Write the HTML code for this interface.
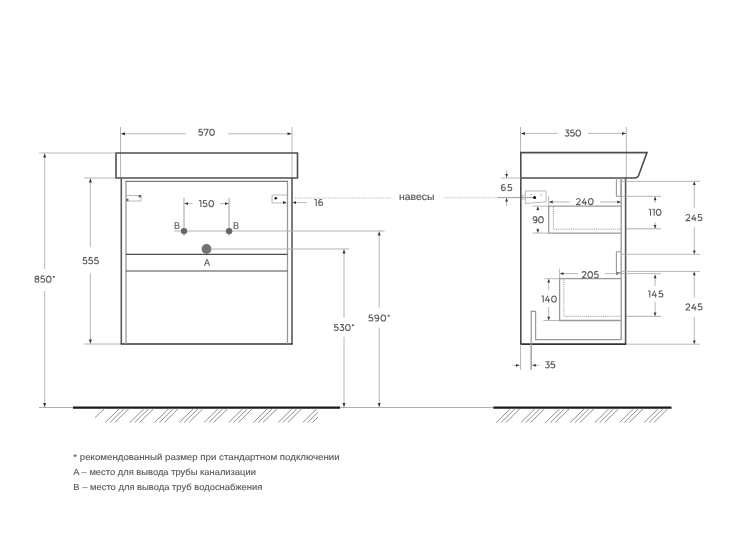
<!DOCTYPE html>
<html><head><meta charset="utf-8"><style>
html,body{margin:0;padding:0;background:#fff;}
svg{display:block;will-change:transform;text-rendering:geometricPrecision;font-family:"Liberation Sans",sans-serif;}
</style></head><body>
<svg width="750" height="539" viewBox="0 0 750 539">
<defs>
<clipPath id="c1"><rect x="95" y="405" width="223" height="20"/></clipPath>
<clipPath id="c2"><rect x="494" y="405" width="175" height="20"/></clipPath>
</defs>
<rect width="750" height="539" fill="#fff"/>
<line x1="120.5" y1="127" x2="120.5" y2="178" stroke="#a6a6a6" stroke-width="0.8" />
<line x1="292" y1="127" x2="292" y2="178" stroke="#a6a6a6" stroke-width="0.8" />
<line x1="121" y1="133.8" x2="186" y2="133.8" stroke="#a6a6a6" stroke-width="0.8" />
<line x1="228" y1="133.8" x2="291.5" y2="133.8" stroke="#a6a6a6" stroke-width="0.8" />
<polygon points="121.00,133.80 125.00,132.30 125.00,135.30" fill="#333"/>
<polygon points="291.50,133.80 287.50,132.30 287.50,135.30" fill="#333"/>
<path transform="translate(198.30,128.80) scale(0.9459)" d="M4.25,0.45 H1.05 L0.65,3.35 C1.15,3.1 1.7,3.0 2.3,3.0 C3.75,3.0 4.55,3.8 4.55,4.95 C4.55,6.2 3.65,6.95 2.35,6.95 C1.45,6.95 0.7,6.65 0.2,6.05" fill="none" stroke="#606060" stroke-width="1.163" stroke-linecap="butt" stroke-linejoin="round"/>
<path transform="translate(203.81,128.80) scale(0.9459)" d="M0.35,1.75 V0.45 H4.6 L1.7,7.4" fill="none" stroke="#606060" stroke-width="1.163" stroke-linecap="butt" stroke-linejoin="round"/>
<path transform="translate(209.31,128.80) scale(0.9459)" d="M2.9,0.45 C4.45,0.45 5.35,1.75 5.35,3.7 C5.35,5.65 4.45,6.95 2.9,6.95 C1.35,6.95 0.45,5.65 0.45,3.7 C0.45,1.75 1.35,0.45 2.9,0.45 Z" fill="none" stroke="#606060" stroke-width="1.163" stroke-linecap="butt" stroke-linejoin="round"/>
<path d="M116,153 H297.5 V178 H116 Z" stroke="#4d4d4d" stroke-width="1.6" fill="none" />
<path d="M121.3,178 V344 M292,344 V178" stroke="#5a5a5a" stroke-width="1.6" fill="none" />
<line x1="120.5" y1="344" x2="292.8" y2="344" stroke="#333" stroke-width="1.6" />
<line x1="126" y1="180.5" x2="126" y2="344" stroke="#999999" stroke-width="1.3" />
<line x1="287.5" y1="180.5" x2="287.5" y2="344" stroke="#999999" stroke-width="1.3" />
<line x1="126" y1="181.3" x2="287.5" y2="181.3" stroke="#777" stroke-width="1.2" />
<line x1="126" y1="254.3" x2="287.5" y2="254.3" stroke="#4d4d4d" stroke-width="1.2" />
<line x1="126" y1="271" x2="287.5" y2="271" stroke="#4d4d4d" stroke-width="1.2" />
<path d="M126,195.5 H141 V201 H127" stroke="#aaa" stroke-width="0.8" fill="none" />
<rect x="138.5" y="195" width="2.6" height="2.4" fill="#666"/>
<rect x="126.2" y="198.6" width="2.2" height="2.6" fill="#666"/>
<path d="M287,195 H272 V203 H287" stroke="#aaa" stroke-width="0.8" fill="none" />
<circle cx="275.8" cy="198.3" r="1.3" fill="#222"/>
<polygon points="286.50,202.60 283.00,201.10 283.00,204.10" fill="#333"/>
<line x1="184" y1="198" x2="184" y2="236" stroke="#999" stroke-width="0.9" />
<line x1="229" y1="198" x2="229" y2="236" stroke="#999" stroke-width="0.9" />
<line x1="184.5" y1="203.6" x2="192.5" y2="203.6" stroke="#a6a6a6" stroke-width="0.8" />
<line x1="220" y1="203.6" x2="228.5" y2="203.6" stroke="#a6a6a6" stroke-width="0.8" />
<polygon points="184.50,203.60 188.00,202.20 188.00,205.00" fill="#333"/>
<polygon points="228.50,203.60 225.00,202.20 225.00,205.00" fill="#333"/>
<path transform="translate(199.00,200.10) scale(0.9459)" d="M0,0.45 H1.95 V7.4" fill="none" stroke="#606060" stroke-width="1.163" stroke-linecap="butt" stroke-linejoin="round"/>
<path transform="translate(202.62,200.10) scale(0.9459)" d="M4.25,0.45 H1.05 L0.65,3.35 C1.15,3.1 1.7,3.0 2.3,3.0 C3.75,3.0 4.55,3.8 4.55,4.95 C4.55,6.2 3.65,6.95 2.35,6.95 C1.45,6.95 0.7,6.65 0.2,6.05" fill="none" stroke="#606060" stroke-width="1.163" stroke-linecap="butt" stroke-linejoin="round"/>
<path transform="translate(208.51,200.10) scale(0.9459)" d="M2.9,0.45 C4.45,0.45 5.35,1.75 5.35,3.7 C5.35,5.65 4.45,6.95 2.9,6.95 C1.35,6.95 0.45,5.65 0.45,3.7 C0.45,1.75 1.35,0.45 2.9,0.45 Z" fill="none" stroke="#606060" stroke-width="1.163" stroke-linecap="butt" stroke-linejoin="round"/>
<line x1="174" y1="231" x2="384.5" y2="231" stroke="#aaa" stroke-width="0.9" />
<circle cx="184" cy="231.1" r="3.2" fill="#666"/>
<circle cx="229.1" cy="231.1" r="3.2" fill="#666"/>
<text x="174" y="228.65" font-size="10" fill="#606060" stroke="#606060" stroke-width="0.2" textLength="6.0" lengthAdjust="spacingAndGlyphs">B</text>
<text x="233" y="228.65" font-size="10" fill="#606060" stroke="#606060" stroke-width="0.2" textLength="6.0" lengthAdjust="spacingAndGlyphs">B</text>
<line x1="206" y1="249" x2="349" y2="249" stroke="#aaa" stroke-width="0.9" />
<circle cx="206.5" cy="249" r="4.9" fill="#727272"/>
<text x="204" y="265.94" font-size="10" fill="#606060" stroke="#606060" stroke-width="0.2" textLength="6.0" lengthAdjust="spacingAndGlyphs">A</text>
<line x1="292.5" y1="202.6" x2="307" y2="202.6" stroke="#a6a6a6" stroke-width="0.8" />
<polygon points="292.50,202.60 296.00,201.20 296.00,204.00" fill="#333"/>
<path transform="translate(314.40,199.00) scale(0.9459)" d="M0,0.45 H1.95 V7.4" fill="none" stroke="#606060" stroke-width="1.163" stroke-linecap="butt" stroke-linejoin="round"/>
<path transform="translate(318.27,199.00) scale(0.9459)" d="M4.1,0.75 C3.65,0.55 3.15,0.45 2.65,0.45 C1.15,0.45 0.45,1.75 0.45,3.7 C0.45,5.8 1.3,6.95 2.7,6.95 C3.85,6.95 4.6,6.15 4.6,4.95 C4.6,3.75 3.8,3.0 2.65,3.0 C1.5,3.0 0.65,3.7 0.5,4.6" fill="none" stroke="#606060" stroke-width="1.163" stroke-linecap="butt" stroke-linejoin="round"/>
<line x1="295" y1="198" x2="391" y2="198" stroke="#aaa" stroke-width="0.8" stroke-dasharray="1.2 1"/>
<line x1="444" y1="197.8" x2="498" y2="197.8" stroke="#aaa" stroke-width="0.8" stroke-dasharray="1.2 1"/>
<line x1="498" y1="197.6" x2="534.5" y2="197.6" stroke="#9a9a9a" stroke-width="1.0" />
<text x="399" y="199.85" font-size="10" fill="#555555" stroke="#555555" stroke-width="0.15" textLength="35.4" lengthAdjust="spacingAndGlyphs">навесы</text>
<line x1="39" y1="153" x2="116" y2="153" stroke="#a6a6a6" stroke-width="0.8" />
<line x1="44.7" y1="153" x2="44.7" y2="269" stroke="#a6a6a6" stroke-width="0.8" />
<line x1="44.7" y1="291" x2="44.7" y2="407.5" stroke="#a6a6a6" stroke-width="0.8" />
<polygon points="44.70,153.50 43.20,157.50 46.20,157.50" fill="#333"/>
<polygon points="44.70,407.00 43.20,403.00 46.20,403.00" fill="#333"/>
<path transform="translate(34.50,275.70) scale(0.9459)" d="M2.55,3.35 C1.4,3.35 0.75,2.8 0.75,1.9 C0.75,1.0 1.5,0.45 2.55,0.45 C3.6,0.45 4.35,1.0 4.35,1.9 C4.35,2.8 3.7,3.35 2.55,3.35 C1.25,3.35 0.45,4.05 0.45,5.1 C0.45,6.25 1.3,6.95 2.55,6.95 C3.8,6.95 4.65,6.25 4.65,5.1 C4.65,4.05 3.85,3.35 2.55,3.35 Z" fill="none" stroke="#606060" stroke-width="1.163" stroke-linecap="butt" stroke-linejoin="round"/>
<path transform="translate(40.39,275.70) scale(0.9459)" d="M4.25,0.45 H1.05 L0.65,3.35 C1.15,3.1 1.7,3.0 2.3,3.0 C3.75,3.0 4.55,3.8 4.55,4.95 C4.55,6.2 3.65,6.95 2.35,6.95 C1.45,6.95 0.7,6.65 0.2,6.05" fill="none" stroke="#606060" stroke-width="1.163" stroke-linecap="butt" stroke-linejoin="round"/>
<path transform="translate(45.99,275.70) scale(0.9459)" d="M2.9,0.45 C4.45,0.45 5.35,1.75 5.35,3.7 C5.35,5.65 4.45,6.95 2.9,6.95 C1.35,6.95 0.45,5.65 0.45,3.7 C0.45,1.75 1.35,0.45 2.9,0.45 Z" fill="none" stroke="#606060" stroke-width="1.163" stroke-linecap="butt" stroke-linejoin="round"/>
<path transform="translate(52.54,275.70) scale(0.9459)" d="M1.3,0.2 V2.4 M0.3,0.75 L2.3,1.85 M2.3,0.75 L0.3,1.85" fill="none" stroke="#606060" stroke-width="0.930" stroke-linecap="butt" stroke-linejoin="round"/>
<line x1="84" y1="178" x2="116" y2="178" stroke="#a6a6a6" stroke-width="0.8" />
<line x1="84" y1="344" x2="121" y2="344" stroke="#a6a6a6" stroke-width="0.8" />
<line x1="90.4" y1="178" x2="90.4" y2="247.2" stroke="#a6a6a6" stroke-width="0.8" />
<line x1="90.4" y1="273.4" x2="90.4" y2="344" stroke="#a6a6a6" stroke-width="0.8" />
<polygon points="90.40,178.50 88.90,182.50 91.90,182.50" fill="#333"/>
<polygon points="90.40,343.50 88.90,339.50 91.90,339.50" fill="#333"/>
<path transform="translate(82.60,257.20) scale(0.9459)" d="M4.25,0.45 H1.05 L0.65,3.35 C1.15,3.1 1.7,3.0 2.3,3.0 C3.75,3.0 4.55,3.8 4.55,4.95 C4.55,6.2 3.65,6.95 2.35,6.95 C1.45,6.95 0.7,6.65 0.2,6.05" fill="none" stroke="#606060" stroke-width="1.163" stroke-linecap="butt" stroke-linejoin="round"/>
<path transform="translate(88.33,257.20) scale(0.9459)" d="M4.25,0.45 H1.05 L0.65,3.35 C1.15,3.1 1.7,3.0 2.3,3.0 C3.75,3.0 4.55,3.8 4.55,4.95 C4.55,6.2 3.65,6.95 2.35,6.95 C1.45,6.95 0.7,6.65 0.2,6.05" fill="none" stroke="#606060" stroke-width="1.163" stroke-linecap="butt" stroke-linejoin="round"/>
<path transform="translate(94.06,257.20) scale(0.9459)" d="M4.25,0.45 H1.05 L0.65,3.35 C1.15,3.1 1.7,3.0 2.3,3.0 C3.75,3.0 4.55,3.8 4.55,4.95 C4.55,6.2 3.65,6.95 2.35,6.95 C1.45,6.95 0.7,6.65 0.2,6.05" fill="none" stroke="#606060" stroke-width="1.163" stroke-linecap="butt" stroke-linejoin="round"/>
<line x1="344" y1="249" x2="344" y2="317.6" stroke="#a6a6a6" stroke-width="0.8" />
<line x1="344" y1="336.8" x2="344" y2="407.5" stroke="#a6a6a6" stroke-width="0.8" />
<polygon points="344.00,249.50 342.50,253.50 345.50,253.50" fill="#333"/>
<polygon points="344.00,407.00 342.50,403.00 345.50,403.00" fill="#333"/>
<path transform="translate(333.90,324.00) scale(0.9459)" d="M4.25,0.45 H1.05 L0.65,3.35 C1.15,3.1 1.7,3.0 2.3,3.0 C3.75,3.0 4.55,3.8 4.55,4.95 C4.55,6.2 3.65,6.95 2.35,6.95 C1.45,6.95 0.7,6.65 0.2,6.05" fill="none" stroke="#606060" stroke-width="1.163" stroke-linecap="butt" stroke-linejoin="round"/>
<path transform="translate(339.50,324.00) scale(0.9459)" d="M0.45,0.45 H4.3 L2.15,3.1 C3.75,3.0 4.5,3.85 4.5,5.0 C4.5,6.25 3.6,6.95 2.35,6.95 C1.45,6.95 0.7,6.65 0.2,6.05" fill="none" stroke="#606060" stroke-width="1.163" stroke-linecap="butt" stroke-linejoin="round"/>
<path transform="translate(345.10,324.00) scale(0.9459)" d="M2.9,0.45 C4.45,0.45 5.35,1.75 5.35,3.7 C5.35,5.65 4.45,6.95 2.9,6.95 C1.35,6.95 0.45,5.65 0.45,3.7 C0.45,1.75 1.35,0.45 2.9,0.45 Z" fill="none" stroke="#606060" stroke-width="1.163" stroke-linecap="butt" stroke-linejoin="round"/>
<path transform="translate(351.64,324.00) scale(0.9459)" d="M1.3,0.2 V2.4 M0.3,0.75 L2.3,1.85 M2.3,0.75 L0.3,1.85" fill="none" stroke="#606060" stroke-width="0.930" stroke-linecap="butt" stroke-linejoin="round"/>
<line x1="384.5" y1="231" x2="384.5" y2="231" stroke="#a6a6a6" stroke-width="0.8" />
<line x1="379.2" y1="231" x2="379.2" y2="307.5" stroke="#a6a6a6" stroke-width="0.8" />
<line x1="379.2" y1="327.7" x2="379.2" y2="407.5" stroke="#a6a6a6" stroke-width="0.8" />
<polygon points="379.20,231.50 377.70,235.50 380.70,235.50" fill="#333"/>
<polygon points="379.20,407.00 377.70,403.00 380.70,403.00" fill="#333"/>
<path transform="translate(368.50,314.50) scale(0.9459)" d="M4.25,0.45 H1.05 L0.65,3.35 C1.15,3.1 1.7,3.0 2.3,3.0 C3.75,3.0 4.55,3.8 4.55,4.95 C4.55,6.2 3.65,6.95 2.35,6.95 C1.45,6.95 0.7,6.65 0.2,6.05" fill="none" stroke="#606060" stroke-width="1.163" stroke-linecap="butt" stroke-linejoin="round"/>
<path transform="translate(374.44,314.50) scale(0.9459)" d="M0.9,6.65 C1.35,6.85 1.85,6.95 2.35,6.95 C3.85,6.95 4.55,5.65 4.55,3.7 C4.55,1.6 3.7,0.45 2.3,0.45 C1.15,0.45 0.4,1.25 0.4,2.45 C0.4,3.65 1.2,4.4 2.35,4.4 C3.5,4.4 4.35,3.7 4.5,2.8" fill="none" stroke="#606060" stroke-width="1.163" stroke-linecap="butt" stroke-linejoin="round"/>
<path transform="translate(380.56,314.50) scale(0.9459)" d="M2.9,0.45 C4.45,0.45 5.35,1.75 5.35,3.7 C5.35,5.65 4.45,6.95 2.9,6.95 C1.35,6.95 0.45,5.65 0.45,3.7 C0.45,1.75 1.35,0.45 2.9,0.45 Z" fill="none" stroke="#606060" stroke-width="1.163" stroke-linecap="butt" stroke-linejoin="round"/>
<path transform="translate(387.44,314.50) scale(0.9459)" d="M1.3,0.2 V2.4 M0.3,0.75 L2.3,1.85 M2.3,0.75 L0.3,1.85" fill="none" stroke="#606060" stroke-width="0.930" stroke-linecap="butt" stroke-linejoin="round"/>
<line x1="39" y1="407.5" x2="493" y2="407.5" stroke="#999" stroke-width="0.8" />
<line x1="73" y1="407.6" x2="340" y2="407.6" stroke="#1a1a1a" stroke-width="2.2" />
<line x1="493.3" y1="407.7" x2="671.5" y2="407.7" stroke="#1a1a1a" stroke-width="2.2" />
<g clip-path="url(#c1)">
<line x1="90.1" y1="422.5" x2="104.4" y2="408.5" stroke="#7a7a7a" stroke-width="0.85" />
<line x1="105.2" y1="422.5" x2="119.5" y2="408.5" stroke="#7a7a7a" stroke-width="0.85" />
<line x1="110.0" y1="422.5" x2="124.3" y2="408.5" stroke="#7a7a7a" stroke-width="0.85" />
<line x1="114.8" y1="422.5" x2="129.1" y2="408.5" stroke="#7a7a7a" stroke-width="0.85" />
<line x1="129.9" y1="422.5" x2="144.2" y2="408.5" stroke="#7a7a7a" stroke-width="0.85" />
<line x1="134.7" y1="422.5" x2="149.0" y2="408.5" stroke="#7a7a7a" stroke-width="0.85" />
<line x1="139.5" y1="422.5" x2="153.8" y2="408.5" stroke="#7a7a7a" stroke-width="0.85" />
<line x1="154.6" y1="422.5" x2="168.9" y2="408.5" stroke="#7a7a7a" stroke-width="0.85" />
<line x1="159.4" y1="422.5" x2="173.7" y2="408.5" stroke="#7a7a7a" stroke-width="0.85" />
<line x1="164.2" y1="422.5" x2="178.5" y2="408.5" stroke="#7a7a7a" stroke-width="0.85" />
<line x1="179.3" y1="422.5" x2="193.6" y2="408.5" stroke="#7a7a7a" stroke-width="0.85" />
<line x1="184.1" y1="422.5" x2="198.4" y2="408.5" stroke="#7a7a7a" stroke-width="0.85" />
<line x1="188.9" y1="422.5" x2="203.2" y2="408.5" stroke="#7a7a7a" stroke-width="0.85" />
<line x1="204.0" y1="422.5" x2="218.3" y2="408.5" stroke="#7a7a7a" stroke-width="0.85" />
<line x1="208.8" y1="422.5" x2="223.1" y2="408.5" stroke="#7a7a7a" stroke-width="0.85" />
<line x1="213.6" y1="422.5" x2="227.9" y2="408.5" stroke="#7a7a7a" stroke-width="0.85" />
<line x1="228.7" y1="422.5" x2="243.0" y2="408.5" stroke="#7a7a7a" stroke-width="0.85" />
<line x1="233.5" y1="422.5" x2="247.8" y2="408.5" stroke="#7a7a7a" stroke-width="0.85" />
<line x1="238.3" y1="422.5" x2="252.6" y2="408.5" stroke="#7a7a7a" stroke-width="0.85" />
<line x1="253.4" y1="422.5" x2="267.7" y2="408.5" stroke="#7a7a7a" stroke-width="0.85" />
<line x1="258.2" y1="422.5" x2="272.5" y2="408.5" stroke="#7a7a7a" stroke-width="0.85" />
<line x1="263.0" y1="422.5" x2="277.3" y2="408.5" stroke="#7a7a7a" stroke-width="0.85" />
<line x1="278.1" y1="422.5" x2="292.4" y2="408.5" stroke="#7a7a7a" stroke-width="0.85" />
<line x1="282.9" y1="422.5" x2="297.2" y2="408.5" stroke="#7a7a7a" stroke-width="0.85" />
<line x1="287.7" y1="422.5" x2="302.0" y2="408.5" stroke="#7a7a7a" stroke-width="0.85" />
<line x1="302.8" y1="422.5" x2="317.1" y2="408.5" stroke="#7a7a7a" stroke-width="0.85" />
<line x1="307.6" y1="422.5" x2="321.9" y2="408.5" stroke="#7a7a7a" stroke-width="0.85" />
<line x1="312.4" y1="422.5" x2="326.7" y2="408.5" stroke="#7a7a7a" stroke-width="0.85" />
</g>
<g clip-path="url(#c2)">
<line x1="496.3" y1="422.5" x2="510.6" y2="408.5" stroke="#7a7a7a" stroke-width="0.85" />
<line x1="501.1" y1="422.5" x2="515.4" y2="408.5" stroke="#7a7a7a" stroke-width="0.85" />
<line x1="505.9" y1="422.5" x2="520.2" y2="408.5" stroke="#7a7a7a" stroke-width="0.85" />
<line x1="520.95" y1="422.5" x2="535.25" y2="408.5" stroke="#7a7a7a" stroke-width="0.85" />
<line x1="525.75" y1="422.5" x2="540.05" y2="408.5" stroke="#7a7a7a" stroke-width="0.85" />
<line x1="530.55" y1="422.5" x2="544.85" y2="408.5" stroke="#7a7a7a" stroke-width="0.85" />
<line x1="545.6" y1="422.5" x2="559.9" y2="408.5" stroke="#7a7a7a" stroke-width="0.85" />
<line x1="550.4" y1="422.5" x2="564.7" y2="408.5" stroke="#7a7a7a" stroke-width="0.85" />
<line x1="555.2" y1="422.5" x2="569.5" y2="408.5" stroke="#7a7a7a" stroke-width="0.85" />
<line x1="570.25" y1="422.5" x2="584.55" y2="408.5" stroke="#7a7a7a" stroke-width="0.85" />
<line x1="575.05" y1="422.5" x2="589.35" y2="408.5" stroke="#7a7a7a" stroke-width="0.85" />
<line x1="579.85" y1="422.5" x2="594.15" y2="408.5" stroke="#7a7a7a" stroke-width="0.85" />
<line x1="594.9" y1="422.5" x2="609.2" y2="408.5" stroke="#7a7a7a" stroke-width="0.85" />
<line x1="599.7" y1="422.5" x2="614.0" y2="408.5" stroke="#7a7a7a" stroke-width="0.85" />
<line x1="604.5" y1="422.5" x2="618.8" y2="408.5" stroke="#7a7a7a" stroke-width="0.85" />
<line x1="619.55" y1="422.5" x2="633.85" y2="408.5" stroke="#7a7a7a" stroke-width="0.85" />
<line x1="624.35" y1="422.5" x2="638.65" y2="408.5" stroke="#7a7a7a" stroke-width="0.85" />
<line x1="629.15" y1="422.5" x2="643.45" y2="408.5" stroke="#7a7a7a" stroke-width="0.85" />
<line x1="644.2" y1="422.5" x2="658.5" y2="408.5" stroke="#7a7a7a" stroke-width="0.85" />
<line x1="649.0" y1="422.5" x2="663.3" y2="408.5" stroke="#7a7a7a" stroke-width="0.85" />
<line x1="653.8" y1="422.5" x2="668.1" y2="408.5" stroke="#7a7a7a" stroke-width="0.85" />
<line x1="668.85" y1="422.5" x2="683.15" y2="408.5" stroke="#7a7a7a" stroke-width="0.85" />
<line x1="673.65" y1="422.5" x2="687.95" y2="408.5" stroke="#7a7a7a" stroke-width="0.85" />
<line x1="678.45" y1="422.5" x2="692.75" y2="408.5" stroke="#7a7a7a" stroke-width="0.85" />
</g>
<line x1="520.5" y1="127" x2="520.5" y2="153" stroke="#a6a6a6" stroke-width="0.8" />
<line x1="626.4" y1="127" x2="626.4" y2="178" stroke="#a6a6a6" stroke-width="0.8" />
<line x1="521" y1="133.4" x2="557.6" y2="133.4" stroke="#a6a6a6" stroke-width="0.8" />
<line x1="588" y1="133.4" x2="626" y2="133.4" stroke="#a6a6a6" stroke-width="0.8" />
<polygon points="521.00,133.40 525.00,131.90 525.00,134.90" fill="#333"/>
<polygon points="626.00,133.40 622.00,131.90 622.00,134.90" fill="#333"/>
<path transform="translate(564.70,129.60) scale(0.9459)" d="M0.45,0.45 H4.3 L2.15,3.1 C3.75,3.0 4.5,3.85 4.5,5.0 C4.5,6.25 3.6,6.95 2.35,6.95 C1.45,6.95 0.7,6.65 0.2,6.05" fill="none" stroke="#606060" stroke-width="1.163" stroke-linecap="butt" stroke-linejoin="round"/>
<path transform="translate(570.11,129.60) scale(0.9459)" d="M4.25,0.45 H1.05 L0.65,3.35 C1.15,3.1 1.7,3.0 2.3,3.0 C3.75,3.0 4.55,3.8 4.55,4.95 C4.55,6.2 3.65,6.95 2.35,6.95 C1.45,6.95 0.7,6.65 0.2,6.05" fill="none" stroke="#606060" stroke-width="1.163" stroke-linecap="butt" stroke-linejoin="round"/>
<path transform="translate(575.51,129.60) scale(0.9459)" d="M2.9,0.45 C4.45,0.45 5.35,1.75 5.35,3.7 C5.35,5.65 4.45,6.95 2.9,6.95 C1.35,6.95 0.45,5.65 0.45,3.7 C0.45,1.75 1.35,0.45 2.9,0.45 Z" fill="none" stroke="#606060" stroke-width="1.163" stroke-linecap="butt" stroke-linejoin="round"/>
<path d="M520.8,344 V152.6 H647 L638.6,175.5 Q637.6,178 634.5,178 H520.8" stroke="#4d4d4d" stroke-width="1.6" fill="none" />
<path d="M625.6,344 V178" stroke="#555" stroke-width="1.6" fill="none" />
<line x1="520" y1="344.1" x2="626.4" y2="344.1" stroke="#333" stroke-width="1.6" />
<line x1="621.2" y1="178" x2="621.2" y2="340" stroke="#999999" stroke-width="1.3" />
<path d="M531.2,370 V311.4 H535.6 V339.6 H621.2" stroke="#999999" stroke-width="1.2" fill="none" />
<line x1="520.5" y1="344" x2="520.5" y2="370" stroke="#a6a6a6" stroke-width="0.8" />
<path d="M621,178 V196.3 H616.4 V178" stroke="#999999" stroke-width="1.1" fill="none" />
<path d="M621,251.7 H616.4 V272.5 H621" stroke="#999999" stroke-width="1.1" fill="none" />
<polygon points="619.50,273.60 616.30,272.30 616.30,274.90" fill="#333"/>
<path d="M621,206.2 H548.7 V233.1 H621" stroke="#999999" stroke-width="1.3" fill="none" />
<path d="M553.4,206.7 V229.2 H621" stroke="#999" stroke-width="0.9" fill="none" stroke-dasharray="1.2 0.9"/>
<line x1="626" y1="228.8" x2="661" y2="228.8" stroke="#999" stroke-width="0.8" />
<path d="M621,278.7 H559.6 V320.5 H621" stroke="#999999" stroke-width="1.3" fill="none" />
<path d="M563.8,279.7 V316.3 H621" stroke="#999" stroke-width="0.9" fill="none" stroke-dasharray="1.2 0.9"/>
<line x1="626" y1="316.3" x2="661" y2="316.3" stroke="#999" stroke-width="0.8" />
<path d="M525.3,191 H546 V201.8 L525.3,203.6 Z" stroke="#aaa" stroke-width="0.8" fill="none" />
<circle cx="534.6" cy="197.5" r="1.5" fill="#111"/>
<rect x="522.3" y="195.2" width="3" height="4" fill="none" stroke="#bbb" stroke-width="0.7"/>
<rect x="530" y="194" width="1.6" height="0.9" fill="#999"/><rect x="540.5" y="194.3" width="1.2" height="1.2" fill="#999"/>
<line x1="501" y1="178" x2="520.5" y2="178" stroke="#a6a6a6" stroke-width="0.8" />
<line x1="506.6" y1="170" x2="506.6" y2="178" stroke="#a6a6a6" stroke-width="0.8" />
<polygon points="506.60,177.60 505.20,174.10 508.00,174.10" fill="#333"/>
<line x1="506.6" y1="198" x2="506.6" y2="206" stroke="#a6a6a6" stroke-width="0.8" />
<polygon points="506.60,198.00 505.20,201.50 508.00,201.50" fill="#333"/>
<path transform="translate(501.00,184.10) scale(0.9459)" d="M4.1,0.75 C3.65,0.55 3.15,0.45 2.65,0.45 C1.15,0.45 0.45,1.75 0.45,3.7 C0.45,5.8 1.3,6.95 2.7,6.95 C3.85,6.95 4.6,6.15 4.6,4.95 C4.6,3.75 3.8,3.0 2.65,3.0 C1.5,3.0 0.65,3.7 0.5,4.6" fill="none" stroke="#606060" stroke-width="1.163" stroke-linecap="butt" stroke-linejoin="round"/>
<path transform="translate(507.46,184.10) scale(0.9459)" d="M4.25,0.45 H1.05 L0.65,3.35 C1.15,3.1 1.7,3.0 2.3,3.0 C3.75,3.0 4.55,3.8 4.55,4.95 C4.55,6.2 3.65,6.95 2.35,6.95 C1.45,6.95 0.7,6.65 0.2,6.05" fill="none" stroke="#606060" stroke-width="1.163" stroke-linecap="butt" stroke-linejoin="round"/>
<line x1="548.7" y1="196" x2="548.7" y2="206.2" stroke="#a6a6a6" stroke-width="0.8" />
<line x1="549" y1="202" x2="570" y2="202" stroke="#a6a6a6" stroke-width="0.8" />
<line x1="600" y1="202" x2="621" y2="202" stroke="#a6a6a6" stroke-width="0.8" />
<polygon points="549.20,202.00 552.70,200.60 552.70,203.40" fill="#333"/>
<polygon points="620.80,202.00 617.30,200.60 617.30,203.40" fill="#333"/>
<path transform="translate(575.90,198.10) scale(0.9459)" d="M0.35,1.7 C0.75,0.85 1.55,0.45 2.5,0.45 C3.75,0.45 4.45,1.15 4.45,2.15 C4.45,2.85 4.15,3.35 3.5,3.95 L0.45,6.95 H4.9" fill="none" stroke="#606060" stroke-width="1.163" stroke-linecap="butt" stroke-linejoin="round"/>
<path transform="translate(581.77,198.10) scale(0.9459)" d="M3.3,0.45 L0.3,5.0 H5.3 M3.9,2.9 V7.4" fill="none" stroke="#606060" stroke-width="1.163" stroke-linecap="butt" stroke-linejoin="round"/>
<path transform="translate(588.01,198.10) scale(0.9459)" d="M2.9,0.45 C4.45,0.45 5.35,1.75 5.35,3.7 C5.35,5.65 4.45,6.95 2.9,6.95 C1.35,6.95 0.45,5.65 0.45,3.7 C0.45,1.75 1.35,0.45 2.9,0.45 Z" fill="none" stroke="#606060" stroke-width="1.163" stroke-linecap="butt" stroke-linejoin="round"/>
<line x1="532.5" y1="206.2" x2="548.7" y2="206.2" stroke="#a6a6a6" stroke-width="0.8" />
<line x1="532.5" y1="233.1" x2="548.7" y2="233.1" stroke="#a6a6a6" stroke-width="0.8" />
<line x1="537.8" y1="206.5" x2="537.8" y2="211" stroke="#a6a6a6" stroke-width="0.8" />
<line x1="537.8" y1="228" x2="537.8" y2="232.8" stroke="#a6a6a6" stroke-width="0.8" />
<polygon points="537.80,206.60 536.40,210.10 539.20,210.10" fill="#333"/>
<polygon points="537.80,232.70 536.40,229.20 539.20,229.20" fill="#333"/>
<path transform="translate(532.70,216.20) scale(0.9459)" d="M0.9,6.65 C1.35,6.85 1.85,6.95 2.35,6.95 C3.85,6.95 4.55,5.65 4.55,3.7 C4.55,1.6 3.7,0.45 2.3,0.45 C1.15,0.45 0.4,1.25 0.4,2.45 C0.4,3.65 1.2,4.4 2.35,4.4 C3.5,4.4 4.35,3.7 4.5,2.8" fill="none" stroke="#606060" stroke-width="1.163" stroke-linecap="butt" stroke-linejoin="round"/>
<path transform="translate(538.21,216.20) scale(0.9459)" d="M2.9,0.45 C4.45,0.45 5.35,1.75 5.35,3.7 C5.35,5.65 4.45,6.95 2.9,6.95 C1.35,6.95 0.45,5.65 0.45,3.7 C0.45,1.75 1.35,0.45 2.9,0.45 Z" fill="none" stroke="#606060" stroke-width="1.163" stroke-linecap="butt" stroke-linejoin="round"/>
<line x1="559.6" y1="268.7" x2="559.6" y2="278.7" stroke="#a6a6a6" stroke-width="0.8" />
<line x1="560" y1="273.6" x2="578" y2="273.6" stroke="#a6a6a6" stroke-width="0.8" />
<line x1="604.5" y1="273.6" x2="661" y2="273.6" stroke="#a6a6a6" stroke-width="0.8" />
<polygon points="560.00,273.60 563.50,272.20 563.50,275.00" fill="#333"/>
<path transform="translate(581.80,271.20) scale(0.9459)" d="M0.35,1.7 C0.75,0.85 1.55,0.45 2.5,0.45 C3.75,0.45 4.45,1.15 4.45,2.15 C4.45,2.85 4.15,3.35 3.5,3.95 L0.45,6.95 H4.9" fill="none" stroke="#606060" stroke-width="1.163" stroke-linecap="butt" stroke-linejoin="round"/>
<path transform="translate(587.45,271.20) scale(0.9459)" d="M2.9,0.45 C4.45,0.45 5.35,1.75 5.35,3.7 C5.35,5.65 4.45,6.95 2.9,6.95 C1.35,6.95 0.45,5.65 0.45,3.7 C0.45,1.75 1.35,0.45 2.9,0.45 Z" fill="none" stroke="#606060" stroke-width="1.163" stroke-linecap="butt" stroke-linejoin="round"/>
<path transform="translate(593.96,271.20) scale(0.9459)" d="M4.25,0.45 H1.05 L0.65,3.35 C1.15,3.1 1.7,3.0 2.3,3.0 C3.75,3.0 4.55,3.8 4.55,4.95 C4.55,6.2 3.65,6.95 2.35,6.95 C1.45,6.95 0.7,6.65 0.2,6.05" fill="none" stroke="#606060" stroke-width="1.163" stroke-linecap="butt" stroke-linejoin="round"/>
<line x1="544.2" y1="278.7" x2="559.6" y2="278.7" stroke="#a6a6a6" stroke-width="0.8" />
<line x1="543.4" y1="320.5" x2="559.6" y2="320.5" stroke="#a6a6a6" stroke-width="0.8" />
<line x1="548.7" y1="279" x2="548.7" y2="290" stroke="#a6a6a6" stroke-width="0.8" />
<line x1="548.7" y1="307" x2="548.7" y2="320.2" stroke="#a6a6a6" stroke-width="0.8" />
<polygon points="548.70,279.10 547.30,282.60 550.10,282.60" fill="#333"/>
<polygon points="548.70,320.20 547.30,316.70 550.10,316.70" fill="#333"/>
<path transform="translate(541.40,295.50) scale(0.9459)" d="M0,0.45 H1.95 V7.4" fill="none" stroke="#606060" stroke-width="1.163" stroke-linecap="butt" stroke-linejoin="round"/>
<path transform="translate(544.94,295.50) scale(0.9459)" d="M3.3,0.45 L0.3,5.0 H5.3 M3.9,2.9 V7.4" fill="none" stroke="#606060" stroke-width="1.163" stroke-linecap="butt" stroke-linejoin="round"/>
<path transform="translate(551.21,295.50) scale(0.9459)" d="M2.9,0.45 C4.45,0.45 5.35,1.75 5.35,3.7 C5.35,5.65 4.45,6.95 2.9,6.95 C1.35,6.95 0.45,5.65 0.45,3.7 C0.45,1.75 1.35,0.45 2.9,0.45 Z" fill="none" stroke="#606060" stroke-width="1.163" stroke-linecap="butt" stroke-linejoin="round"/>
<line x1="621" y1="196.3" x2="661" y2="196.3" stroke="#a6a6a6" stroke-width="0.8" />
<line x1="655.1" y1="196.6" x2="655.1" y2="203" stroke="#a6a6a6" stroke-width="0.8" />
<line x1="655.1" y1="222.5" x2="655.1" y2="228.5" stroke="#a6a6a6" stroke-width="0.8" />
<polygon points="655.10,196.70 653.70,200.20 656.50,200.20" fill="#333"/>
<polygon points="655.10,228.50 653.70,225.00 656.50,225.00" fill="#333"/>
<path transform="translate(648.70,208.80) scale(0.9459)" d="M0,0.45 H1.95 V7.4" fill="none" stroke="#606060" stroke-width="1.163" stroke-linecap="butt" stroke-linejoin="round"/>
<path transform="translate(652.31,208.80) scale(0.9459)" d="M0,0.45 H1.95 V7.4" fill="none" stroke="#606060" stroke-width="1.163" stroke-linecap="butt" stroke-linejoin="round"/>
<path transform="translate(655.91,208.80) scale(0.9459)" d="M2.9,0.45 C4.45,0.45 5.35,1.75 5.35,3.7 C5.35,5.65 4.45,6.95 2.9,6.95 C1.35,6.95 0.45,5.65 0.45,3.7 C0.45,1.75 1.35,0.45 2.9,0.45 Z" fill="none" stroke="#606060" stroke-width="1.163" stroke-linecap="butt" stroke-linejoin="round"/>
<line x1="655.1" y1="274.6" x2="655.1" y2="286" stroke="#a6a6a6" stroke-width="0.8" />
<line x1="655.1" y1="302" x2="655.1" y2="316" stroke="#a6a6a6" stroke-width="0.8" />
<polygon points="655.10,274.70 653.70,278.20 656.50,278.20" fill="#333"/>
<polygon points="655.10,316.00 653.70,312.50 656.50,312.50" fill="#333"/>
<path transform="translate(647.90,290.50) scale(0.9459)" d="M0,0.45 H1.95 V7.4" fill="none" stroke="#606060" stroke-width="1.163" stroke-linecap="butt" stroke-linejoin="round"/>
<path transform="translate(651.86,290.50) scale(0.9459)" d="M3.3,0.45 L0.3,5.0 H5.3 M3.9,2.9 V7.4" fill="none" stroke="#606060" stroke-width="1.163" stroke-linecap="butt" stroke-linejoin="round"/>
<path transform="translate(658.56,290.50) scale(0.9459)" d="M4.25,0.45 H1.05 L0.65,3.35 C1.15,3.1 1.7,3.0 2.3,3.0 C3.75,3.0 4.55,3.8 4.55,4.95 C4.55,6.2 3.65,6.95 2.35,6.95 C1.45,6.95 0.7,6.65 0.2,6.05" fill="none" stroke="#606060" stroke-width="1.163" stroke-linecap="butt" stroke-linejoin="round"/>
<line x1="621.2" y1="181.35" x2="700" y2="181.35" stroke="#a6a6a6" stroke-width="0.8" />
<line x1="621" y1="254.3" x2="700" y2="254.3" stroke="#a6a6a6" stroke-width="0.8" />
<line x1="694.3" y1="181.5" x2="694.3" y2="207.8" stroke="#a6a6a6" stroke-width="0.8" />
<line x1="694.3" y1="227.2" x2="694.3" y2="254" stroke="#a6a6a6" stroke-width="0.8" />
<polygon points="694.30,181.60 692.90,185.10 695.70,185.10" fill="#333"/>
<polygon points="694.30,254.10 692.90,250.60 695.70,250.60" fill="#333"/>
<path transform="translate(685.50,214.10) scale(0.9459)" d="M0.35,1.7 C0.75,0.85 1.55,0.45 2.5,0.45 C3.75,0.45 4.45,1.15 4.45,2.15 C4.45,2.85 4.15,3.35 3.5,3.95 L0.45,6.95 H4.9" fill="none" stroke="#606060" stroke-width="1.163" stroke-linecap="butt" stroke-linejoin="round"/>
<path transform="translate(691.39,214.10) scale(0.9459)" d="M3.3,0.45 L0.3,5.0 H5.3 M3.9,2.9 V7.4" fill="none" stroke="#606060" stroke-width="1.163" stroke-linecap="butt" stroke-linejoin="round"/>
<path transform="translate(697.66,214.10) scale(0.9459)" d="M4.25,0.45 H1.05 L0.65,3.35 C1.15,3.1 1.7,3.0 2.3,3.0 C3.75,3.0 4.55,3.8 4.55,4.95 C4.55,6.2 3.65,6.95 2.35,6.95 C1.45,6.95 0.7,6.65 0.2,6.05" fill="none" stroke="#606060" stroke-width="1.163" stroke-linecap="butt" stroke-linejoin="round"/>
<line x1="621" y1="271.4" x2="700" y2="271.4" stroke="#a6a6a6" stroke-width="0.8" />
<line x1="626" y1="344.2" x2="700" y2="344.2" stroke="#a6a6a6" stroke-width="0.8" />
<line x1="694.3" y1="271.6" x2="694.3" y2="297.5" stroke="#a6a6a6" stroke-width="0.8" />
<line x1="694.3" y1="317" x2="694.3" y2="344" stroke="#a6a6a6" stroke-width="0.8" />
<polygon points="694.30,271.70 692.90,275.20 695.70,275.20" fill="#333"/>
<polygon points="694.30,344.00 692.90,340.50 695.70,340.50" fill="#333"/>
<path transform="translate(685.50,303.40) scale(0.9459)" d="M0.35,1.7 C0.75,0.85 1.55,0.45 2.5,0.45 C3.75,0.45 4.45,1.15 4.45,2.15 C4.45,2.85 4.15,3.35 3.5,3.95 L0.45,6.95 H4.9" fill="none" stroke="#606060" stroke-width="1.163" stroke-linecap="butt" stroke-linejoin="round"/>
<path transform="translate(691.39,303.40) scale(0.9459)" d="M3.3,0.45 L0.3,5.0 H5.3 M3.9,2.9 V7.4" fill="none" stroke="#606060" stroke-width="1.163" stroke-linecap="butt" stroke-linejoin="round"/>
<path transform="translate(697.66,303.40) scale(0.9459)" d="M4.25,0.45 H1.05 L0.65,3.35 C1.15,3.1 1.7,3.0 2.3,3.0 C3.75,3.0 4.55,3.8 4.55,4.95 C4.55,6.2 3.65,6.95 2.35,6.95 C1.45,6.95 0.7,6.65 0.2,6.05" fill="none" stroke="#606060" stroke-width="1.163" stroke-linecap="butt" stroke-linejoin="round"/>
<line x1="531.2" y1="344" x2="531.2" y2="370" stroke="#a6a6a6" stroke-width="0.8" />
<line x1="512.5" y1="365.3" x2="519.5" y2="365.3" stroke="#a6a6a6" stroke-width="0.8" />
<polygon points="519.50,365.30 516.00,363.90 516.00,366.70" fill="#333"/>
<line x1="532.3" y1="365.3" x2="539.2" y2="365.3" stroke="#a6a6a6" stroke-width="0.8" />
<polygon points="532.30,365.30 535.80,363.90 535.80,366.70" fill="#333"/>
<path transform="translate(545.00,361.30) scale(0.9459)" d="M0.45,0.45 H4.3 L2.15,3.1 C3.75,3.0 4.5,3.85 4.5,5.0 C4.5,6.25 3.6,6.95 2.35,6.95 C1.45,6.95 0.7,6.65 0.2,6.05" fill="none" stroke="#606060" stroke-width="1.163" stroke-linecap="butt" stroke-linejoin="round"/>
<path transform="translate(550.46,361.30) scale(0.9459)" d="M4.25,0.45 H1.05 L0.65,3.35 C1.15,3.1 1.7,3.0 2.3,3.0 C3.75,3.0 4.55,3.8 4.55,4.95 C4.55,6.2 3.65,6.95 2.35,6.95 C1.45,6.95 0.7,6.65 0.2,6.05" fill="none" stroke="#606060" stroke-width="1.163" stroke-linecap="butt" stroke-linejoin="round"/>
<text x="73.3" y="460.3" font-size="8.8" fill="#585858" stroke="#585858" stroke-width="0.12" textLength="266.4" lengthAdjust="spacingAndGlyphs">* рекомендованный размер при стандартном подключении</text>
<text x="73.3" y="475.2" font-size="8.8" fill="#585858" stroke="#585858" stroke-width="0.12" textLength="182.60000000000002" lengthAdjust="spacingAndGlyphs">A – место для вывода трубы канализации</text>
<text x="73.3" y="490.0" font-size="8.8" fill="#585858" stroke="#585858" stroke-width="0.12" textLength="189.0" lengthAdjust="spacingAndGlyphs">B – место для вывода труб водоснабжения</text>
</svg>
</body></html>
